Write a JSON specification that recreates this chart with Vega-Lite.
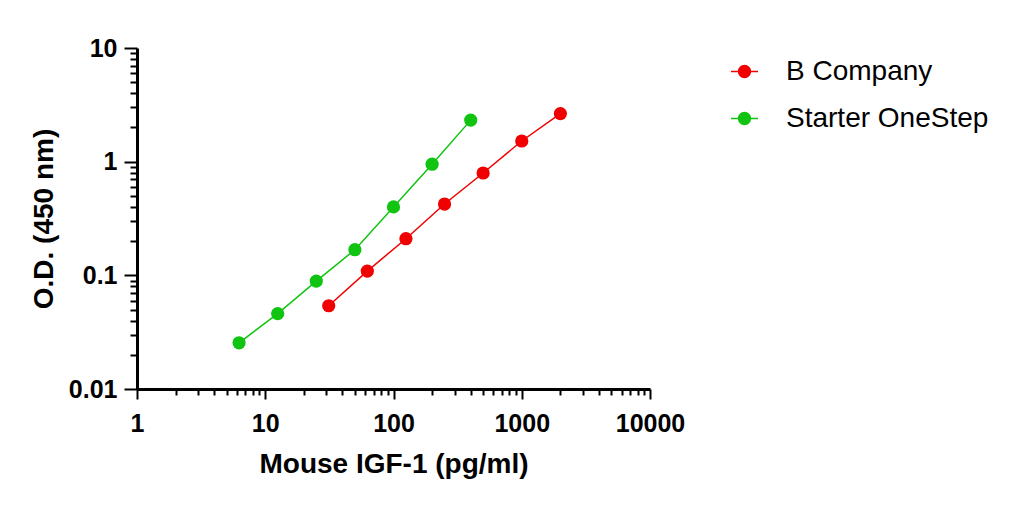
{
  "$schema": "https://vega.github.io/schema/vega-lite/v6.json",
  "width": 513,
  "height": 341,
  "autosize": "none",
  "padding": {"left": 137, "top": 48, "right": 365, "bottom": 118},
  "background": "white",
  "config": {
    "view": {"stroke": null},
    "font": "Liberation Sans",
    "axis": {
      "grid": false,
      "domainColor": "black",
      "domainWidth": 3,
      "tickColor": "black",
      "tickWidth": 2,
      "labelFont": "Liberation Sans",
      "labelFontWeight": "bold",
      "labelFontSize": 25,
      "labelColor": "black",
      "labelFlush": false,
      "titleFont": "Liberation Sans",
      "titleFontWeight": "bold",
      "titleFontSize": 28,
      "titleColor": "black"
    }
  },
  "data": {
    "values": [
      {"series": "B Company", "conc": 31.25, "od": 0.054},
      {"series": "B Company", "conc": 62.5, "od": 0.109},
      {"series": "B Company", "conc": 125, "od": 0.21},
      {"series": "B Company", "conc": 250, "od": 0.424},
      {"series": "B Company", "conc": 500, "od": 0.795},
      {"series": "B Company", "conc": 1000, "od": 1.52},
      {"series": "B Company", "conc": 2000, "od": 2.65},
      {"series": "Starter OneStep", "conc": 6.25, "od": 0.0255},
      {"series": "Starter OneStep", "conc": 12.5, "od": 0.046},
      {"series": "Starter OneStep", "conc": 25, "od": 0.089},
      {"series": "Starter OneStep", "conc": 50, "od": 0.168},
      {"series": "Starter OneStep", "conc": 100, "od": 0.4},
      {"series": "Starter OneStep", "conc": 200, "od": 0.95},
      {"series": "Starter OneStep", "conc": 400, "od": 2.32}
    ]
  },
  "encoding": {
    "x": {
      "field": "conc",
      "type": "quantitative",
      "title": "Mouse IGF-1 (pg/ml)",
      "scale": {"type": "log", "domain": [1, 10000], "nice": false},
      "axis": {
        "values": [1,2,3,4,5,6,7,8,9,10,20,30,40,50,60,70,80,90,100,200,300,400,500,600,700,800,900,1000,2000,3000,4000,5000,6000,7000,8000,9000,10000],
        "format": "~g",
        "labelExpr": "abs(log(datum.value)/LN10 - round(log(datum.value)/LN10)) < 1e-6 ? datum.label : ''",
        "tickSize": {"condition": {"test": "abs(log(datum.value)/LN10 - round(log(datum.value)/LN10)) < 1e-6", "value": 10}, "value": 6},
        "labelOverlap": false,
        "labelPadding": 12,
        "titlePadding": 14
      }
    },
    "y": {
      "field": "od",
      "type": "quantitative",
      "title": "O.D. (450 nm)",
      "scale": {"type": "log", "domain": [0.01, 10], "nice": false},
      "axis": {
        "values": [0.01,0.02,0.03,0.04,0.05,0.06,0.07,0.08,0.09,0.1,0.2,0.3,0.4,0.5,0.6,0.7,0.8,0.9,1,2,3,4,5,6,7,8,9,10],
        "format": "~g",
        "labelExpr": "abs(log(datum.value)/LN10 - round(log(datum.value)/LN10)) < 1e-6 ? datum.label : ''",
        "tickSize": {"condition": {"test": "abs(log(datum.value)/LN10 - round(log(datum.value)/LN10)) < 1e-6", "value": 13}, "value": 7},
        "labelOverlap": false,
        "labelPadding": 7,
        "titlePadding": 10
      }
    },
    "color": {
      "field": "series",
      "type": "nominal",
      "scale": {"domain": ["B Company", "Starter OneStep"], "range": ["#f00000", "#11c411"]},
      "legend": {
        "title": null,
        "orient": "none",
        "legendX": 593,
        "legendY": 9,
        "symbolType": "M-1,0H1M-0.44,0A0.44,0.44 0 1,0 0.44,0A0.44,0.44 0 1,0 -0.44,0Z",
        "symbolSize": 729,
        "symbolStrokeWidth": 1.5,
        "labelFont": "Liberation Sans",
        "labelFontSize": 28,
        "labelColor": "black",
        "labelLimit": 400,
        "labelOffset": 27,
        "rowPadding": 18,
        "encode": {
          "symbols": {
            "update": {
              "fill": {"scale": "color", "field": "value"},
              "stroke": {"scale": "color", "field": "value"},
              "opacity": {"value": 1}
            }
          }
        }
      }
    }
  },
  "layer": [
    {
      "mark": {"type": "line", "strokeWidth": 1.5},
      "encoding": {"order": {"field": "conc", "type": "quantitative"}}
    },
    {
      "mark": {"type": "point", "filled": true, "shape": "circle", "size": 175, "opacity": 1}
    }
  ]
}
